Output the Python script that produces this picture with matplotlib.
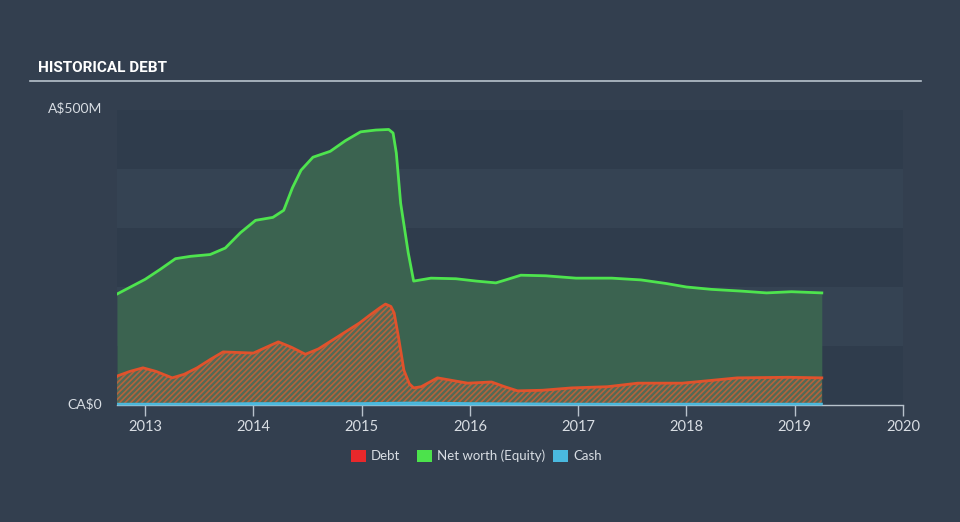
import numpy as np
import matplotlib.pyplot as plt
from matplotlib.patches import Rectangle

# data (decimal years, CA$ millions)
equity_x = [2012.74, 2013.0, 2013.14, 2013.28, 2013.42, 2013.60, 2013.74, 2013.88, 2014.02,
            2014.18, 2014.28, 2014.36, 2014.44, 2014.55, 2014.71, 2014.85, 2014.99, 2015.13, 2015.25,
            2015.29, 2015.32, 2015.36, 2015.43, 2015.48, 2015.64, 2015.87, 2016.06, 2016.24,
            2016.33, 2016.47, 2016.70, 2016.98, 2017.31, 2017.58, 2017.81, 2018.0, 2018.23,
            2018.51, 2018.74, 2018.97, 2019.25]
equity = [188, 213, 230, 248, 252, 255, 266, 292, 313,
          318, 330, 368, 398, 420, 430, 448, 463, 466, 467,
          461, 427, 342, 258, 210, 215, 214, 210, 207,
          212, 220, 219, 215, 215, 212, 206, 200, 196,
          193, 190, 192, 190]

debt_x = [2012.74, 2012.86, 2012.98, 2013.1, 2013.25, 2013.36, 2013.48, 2013.6, 2013.72, 2014.0,
          2014.12, 2014.23, 2014.35, 2014.48, 2014.6, 2014.73, 2014.98, 2015.08, 2015.17, 2015.22,
          2015.27, 2015.30, 2015.34, 2015.39, 2015.44, 2015.48, 2015.55, 2015.70, 2015.98,
          2016.20, 2016.32, 2016.44, 2016.67, 2016.94, 2017.27, 2017.55, 2017.96, 2018.19, 2018.47,
          2018.94, 2019.25]
debt = [49, 57, 63, 57, 46, 52, 63, 77, 90, 88,
        98, 107, 98, 86, 95, 110, 139, 153, 165, 171,
        167, 156, 115, 59, 36, 29, 31, 46, 37,
        39, 31, 24, 25, 29, 31, 37, 37, 41, 46,
        47, 46]

cash_x = [2012.74, 2013.5, 2014.0, 2014.5, 2015.0, 2015.5, 2016.0, 2017.0, 2018.0, 2019.0, 2019.25]
cash = [2, 2, 3, 3, 3, 4, 3, 2, 2, 2, 2]

years = [2013, 2014, 2015, 2016, 2017, 2018, 2019, 2020]

bg = '#333f4f'
txt = '#d8dde3'
font = ['Lato', 'DejaVu Sans']
plt.rcParams['hatch.linewidth'] = 1.2

fig = plt.figure(figsize=(9.6, 5.22), dpi=100, facecolor=bg)
ax = fig.add_axes([117/960, 117/522, 786/960, 295/522])
ax.set_facecolor(bg)
ax.set_xlim(2012.74, 2020.0)
ax.set_ylim(0, 500)

# horizontal background bands
for i in range(5):
    c = '#2f3c4c' if i % 2 == 0 else '#354353'
    ax.axhspan(i * 100, (i + 1) * 100, color=c, zorder=0, lw=0)

ax.fill_between(equity_x, equity, color='#3b6350', lw=0, zorder=1)
ax.plot(equity_x, equity, color='#4ee44e', lw=2, zorder=4, solid_joinstyle='round')

# debt: orange stripes over a grey-green base
ax.fill_between(debt_x, debt, facecolor='#536a55', edgecolor='#b4633d', hatch='//////', lw=0, zorder=2)
ax.plot(debt_x, debt, color='#e0522c', lw=2, zorder=4, solid_joinstyle='round')

ax.fill_between(cash_x, cash, color='#4ab9df', lw=0, zorder=3)
ax.plot(cash_x, cash, color='#4ab9df', lw=1.5, zorder=5)

for s in ['top', 'right', 'left']:
    ax.spines[s].set_visible(False)
ax.spines['bottom'].set_color('#b8c2cc')
ax.spines['bottom'].set_linewidth(1)
ax.set_yticks([])
ax.set_xticks(years)
ax.set_xticklabels([str(y) for y in years], family=font)
ax.tick_params(axis='x', colors='#b8c2cc', length=8, width=1, labelsize=10.5, labelcolor=txt, pad=3)

# y labels
fig.text(48/960, 1 - 108/522, 'A$500M', color=txt, fontsize=10, family=font, ha='left', va='center')
fig.text(102/960, 1 - 404/522, 'CA$0', color=txt, fontsize=10, family=font, ha='right', va='center')

# title and rule
fig.text(38/960, 1 - 68/522, 'HISTORICAL DEBT', color='white', fontsize=11, weight='bold',
         family=['Roboto', 'DejaVu Sans'], ha='left', va='center')
fig.add_artist(plt.Line2D([30/960, 921/960], [1 - 81/522, 1 - 81/522], color='#b8c2cc', lw=1.2))

# legend
items = [('Debt', '#e8282b', 351), ('Net worth (Equity)', '#4ce24c', 417), ('Cash', '#4ab9df', 553)]
for label, col, px in items:
    fig.add_artist(Rectangle((px/960, 1 - 462/522), 15/960, 12/522, facecolor=col, lw=0,
                             transform=fig.transFigure))
    fig.text((px + 20)/960, 1 - 456/522, label, color=txt, fontsize=9.5, family=font,
             ha='left', va='center')

plt.savefig('out.png', dpi=100, facecolor=bg)
